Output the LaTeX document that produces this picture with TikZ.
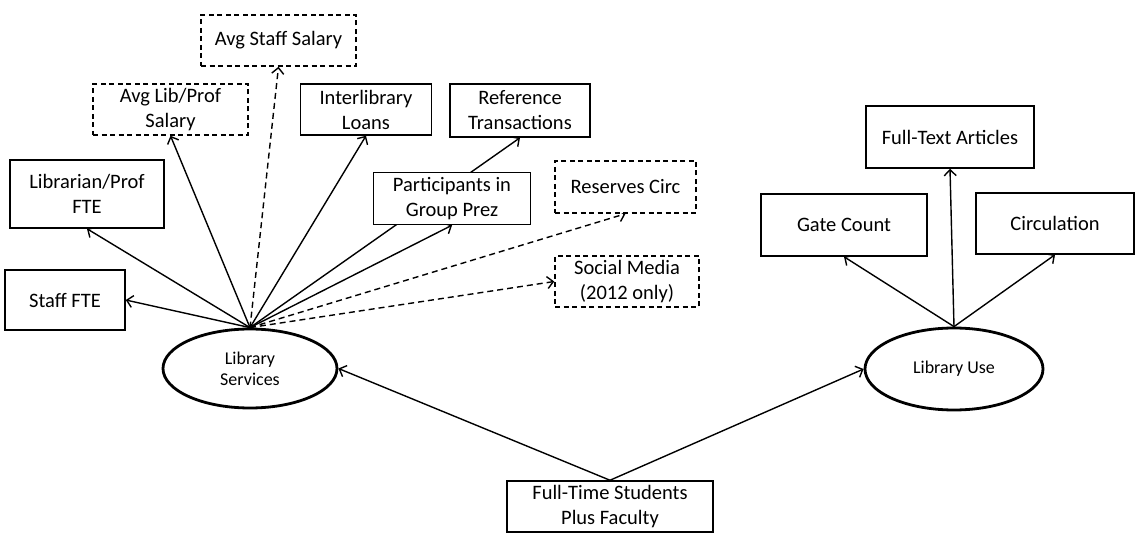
\documentclass[tikz,border=0pt]{standalone}
\usepackage{fontspec}
\setmainfont{Carlito}
\usetikzlibrary{shapes.geometric,arrows.meta}
\pgfdeclarelayer{background}
\pgfsetlayers{background,main}
\begin{document}
\begin{tikzpicture}[x=1pt,y=-1pt,
  box/.style={draw, line width=1.5pt, fill=white, align=center, inner sep=0pt,
    font=\fontsize{20.5}{25}\selectfont},
  dbox/.style={box, dash pattern=on 5pt off 3.5pt},
  oval/.style={draw, ellipse, line width=2.8pt, fill=white, inner sep=0pt, align=center,
    font=\fontsize{18}{21}\selectfont},
  link/.style={line width=1.4pt, -{Straight Barb[length=6pt,width=12pt,line width=1.4pt]}},
  dlink/.style={link, dash pattern=on 6pt off 4pt}]
\useasboundingbox (0,0) rectangle (1144,540);
% nodes
\node[dbox, minimum width=155, minimum height=51] (avgstaff) at (278.5,40.5) {Avg Staff Salary};
\node[dbox, minimum width=155, minimum height=51] (avglib) at (170.5,109.5) {Avg Lib/Prof\\Salary};
\node[box, minimum width=154, minimum height=68] (libfte) at (87,194) {Librarian/Prof\\FTE};
\node[box, minimum width=120, minimum height=60] (stafffte) at (65,300) {Staff FTE};
\node[box, minimum width=131, minimum height=51] (ill) at (366,109.5) {Interlibrary\\Loans};
\node[box, minimum width=140, minimum height=53] (ref) at (520,110.5) {Reference\\Transactions};
\node[box, minimum width=157, minimum height=52] (part) at (452,198.5) {Participants in\\Group Prez};
\node[dbox, minimum width=141, minimum height=52] (reserves) at (625.5,187) {Reserves Circ};
\node[dbox, minimum width=144, minimum height=51] (social) at (627,281.5) {Social Media\\(2012 only)};
\node[box, minimum width=168, minimum height=62] (fulltext) at (950,137) {Full-Text Articles};
\node[box, minimum width=166, minimum height=62] (gate) at (844,225) {Gate Count};
\node[box, minimum width=158, minimum height=61] (circ) at (1055,223.5) {Circulation};
\node[box, minimum width=206, minimum height=51] (ft) at (610,506.5) {Full-Time Students\\Plus Faculty};
\node[oval, minimum width=174, minimum height=79] (ls) at (250,368.5) {Library\\Services};
\node[oval, minimum width=178, minimum height=82] (lu) at (954,369) {Library Use};
% connectors
\begin{pgfonlayer}{background}
\draw[link] (ls.north) -- (stafffte.east);
\draw[link] (ls.north) -- (libfte.south);
\draw[link] (ls.north) -- (avglib.south);
\draw[dlink] (ls.north) -- (avgstaff.south);
\draw[link] (ls.north) -- (ill.south);
\draw[link] (ls.north) -- (ref.south);
\draw[link] (ls.north) -- (part.south);
\draw[dlink] (ls.north) -- (reserves.south);
\draw[dlink] (ls.north) -- (social.west);
\draw[link] (lu.north) -- (gate.south);
\draw[link] (lu.north) -- (fulltext.south);
\draw[link] (lu.north) -- (circ.south);
\draw[link] (ft.north) -- (ls.east);
\draw[link] (ft.north) -- (lu.west);
\end{pgfonlayer}
\end{tikzpicture}
\end{document}
